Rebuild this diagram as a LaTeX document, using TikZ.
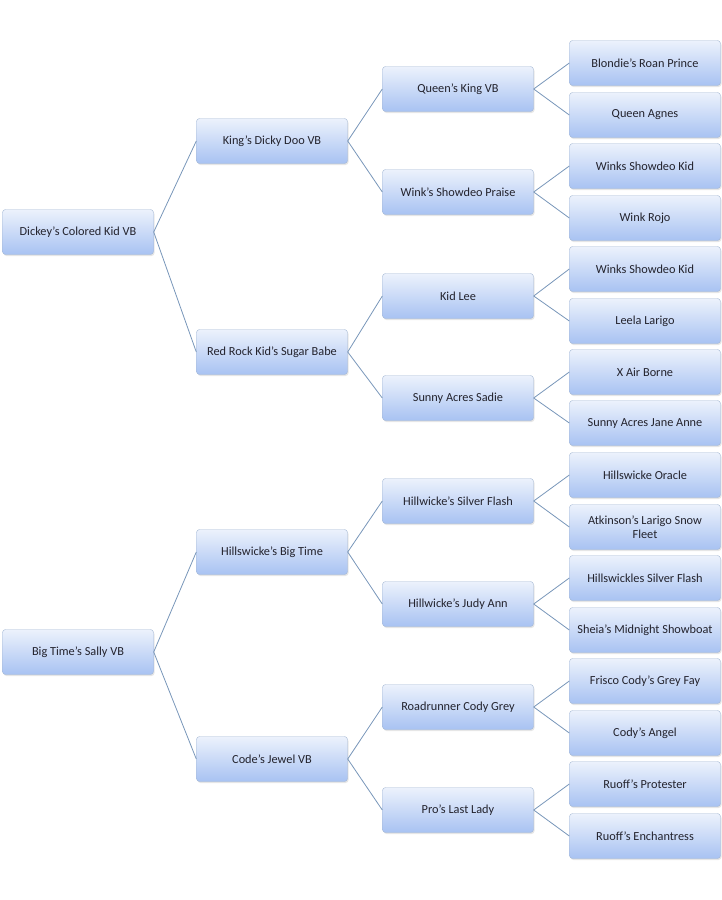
\documentclass[tikz,border=0pt]{standalone}
\usepackage{fontspec}
\setmainfont{Carlito}
\usetikzlibrary{shadows}
\definecolor{hborder}{RGB}{165,184,212}
\definecolor{htop}{RGB}{236,242,252}
\definecolor{hbottom}{RGB}{168,194,242}
\definecolor{htext}{RGB}{35,35,45}
\definecolor{hline}{RGB}{120,150,185}
\newcommand{\horsefont}{\fontsize{12.3}{13.5}\selectfont}
\tikzset{
  horse/.style = {draw=hborder, rounded corners=3pt, top color=htop, bottom color=hbottom,
                  minimum width=151pt, minimum height=45pt, inner sep=2pt, align=center,
                  font=\horsefont, text=htext,
                  drop shadow={opacity=0.2, shadow xshift=1pt, shadow yshift=-1.5pt}},
  link/.style  = {draw=hline, line width=0.8pt},
}
\begin{document}
\begin{tikzpicture}[x=1pt, y=-1pt]
\useasboundingbox (0,0) rectangle (722,900);
% first generation
\node[horse] (kid)   at (78,232) {Dickey’s Colored Kid VB};
\node[horse] (sally) at (78,652) {Big Time’s Sally VB};
% second generation
\node[horse] (dicky)  at (272,141) {King’s Dicky Doo VB};
\node[horse] (sugar)  at (272,352) {Red Rock Kid’s Sugar Babe};
\node[horse] (bigtime) at (272,552) {Hillswicke’s Big Time};
\node[horse] (jewel)  at (272,759) {Code’s Jewel VB};
% third generation
\node[horse] (queenking) at (458,89)  {Queen’s King VB};
\node[horse] (praise)    at (458,192) {Wink’s Showdeo Praise};
\node[horse] (kidlee)    at (458,296) {Kid Lee};
\node[horse] (sadie)     at (458,398) {Sunny Acres Sadie};
\node[horse] (silver)    at (458,501) {Hillwicke’s Silver Flash};
\node[horse] (judy)      at (458,604) {Hillwicke’s Judy Ann};
\node[horse] (cody)      at (458,707) {Roadrunner Cody Grey};
\node[horse] (lastlady)  at (458,810) {Pro’s Last Lady};
% fourth generation
\node[horse] (blondie)   at (645,63)  {Blondie’s Roan Prince};
\node[horse] (agnes)     at (645,115) {Queen Agnes};
\node[horse] (winksa)    at (645,166) {Winks Showdeo Kid};
\node[horse] (rojo)      at (645,218) {Wink Rojo};
\node[horse] (winksb)    at (645,269) {Winks Showdeo Kid};
\node[horse] (leela)     at (645,321) {Leela Larigo};
\node[horse] (airborne)  at (645,372) {X Air Borne};
\node[horse] (janeanne)  at (645,423) {Sunny Acres Jane Anne};
\node[horse] (oracle)    at (645,475) {Hillswicke Oracle};
\node[horse] (fleet)     at (645,527) {Atkinson’s Larigo Snow\\Fleet};
\node[horse] (flash)     at (645,578) {Hillswickles Silver Flash};
\node[horse] (showboat)  at (645,630) {Sheia’s Midnight Showboat};
\node[horse] (fay)       at (645,681) {Frisco Cody’s Grey Fay};
\node[horse] (angel)     at (645,733) {Cody’s Angel};
\node[horse] (protester) at (645,784) {Ruoff’s Protester};
\node[horse] (enchant)   at (645,836) {Ruoff’s Enchantress};
% connectors
\foreach \p/\c in {kid/dicky, kid/sugar, sally/bigtime, sally/jewel,
                   dicky/queenking, dicky/praise, sugar/kidlee, sugar/sadie,
                   bigtime/silver, bigtime/judy, jewel/cody, jewel/lastlady,
                   queenking/blondie, queenking/agnes, praise/winksa, praise/rojo,
                   kidlee/winksb, kidlee/leela, sadie/airborne, sadie/janeanne,
                   silver/oracle, silver/fleet, judy/flash, judy/showboat,
                   cody/fay, cody/angel, lastlady/protester, lastlady/enchant}
  \draw[link] (\p.east) -- (\c.west);
\end{tikzpicture}
\end{document}
